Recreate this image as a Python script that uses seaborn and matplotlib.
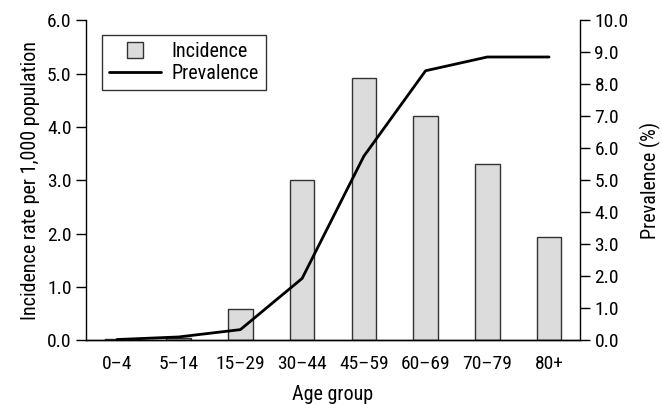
import numpy as np
import pandas as pd
import matplotlib
matplotlib.use("Agg")
from matplotlib import pyplot as plt
from matplotlib import font_manager
from matplotlib.lines import Line2D
import seaborn as sns

# data
age_groups = ["0–4", "5–14", "15–29", "30–44", "45–59", "60–69", "70–79", "80+"]
incidence = [0.03, 0.05, 0.58, 3.0, 4.91, 4.21, 3.31, 1.93]
prevalence = [0.02, 0.1, 0.33, 1.93, 5.75, 8.42, 8.85, 8.85]

sns.set_theme(style="white")

# pick a narrow font if one is installed
installed = {f.name for f in font_manager.fontManager.ttflist}
family = "DejaVu Sans"
for name in ["Liberation Sans Narrow", "Roboto Condensed", "Open Sans Condensed",
             "DejaVu Sans Condensed", "Arial Narrow", "Liberation Sans"]:
    if name in installed:
        family = name
        break
plt.rcParams["font.family"] = [family, "DejaVu Sans"]
plt.rcParams["text.color"] = "black"
plt.rcParams["axes.labelcolor"] = "black"

data = pd.DataFrame({"age": age_groups, "incidence": incidence,
                     "prevalence": prevalence, "pos": np.arange(len(age_groups))})

fig, ax = plt.subplots(figsize=(6.62, 4.04), dpi=100)
fig.subplots_adjust(left=0.130, right=0.876, top=0.950, bottom=0.158)

sns.barplot(data=data, x="age", y="incidence", color="#dcdcdc",
            edgecolor="#333333", linewidth=1.0, width=0.4, saturation=1, ax=ax)
ax.set_ylim(0, 6)
ax.set_xlim(-0.5, len(age_groups) - 0.5)
ax.set_yticks(np.arange(0, 6.1, 1.0))
ax.set_yticklabels([f"{v:.1f}" for v in np.arange(0, 6.1, 1.0)])
ax.set_xlabel("Age group", fontsize=14.5, labelpad=8)
ax.set_ylabel("Incidence rate per 1,000 population", fontsize=14.5, labelpad=5)

ax2 = ax.twinx()
sns.lineplot(data=data, x="pos", y="prevalence", color="black",
             linewidth=2.0, ax=ax2)
ax2.set_ylim(0, 10)
ax2.set_yticks(np.arange(0, 10.1, 1.0))
ax2.set_yticklabels([f"{v:.1f}" for v in np.arange(0, 10.1, 1.0)])
ax2.set_ylabel("Prevalence (%)", fontsize=14.5, labelpad=8)
ax2.set_xlim(-0.5, len(age_groups) - 0.5)

for a in (ax, ax2):
    a.spines["top"].set_visible(False)
    for s in a.spines.values():
        s.set_color("black")
        s.set_linewidth(1.0)
    a.tick_params(axis="y", direction="out", length=7, width=1.0,
                  color="black", labelsize=14, labelcolor="black",
                  left=(a is ax), right=(a is ax2))
ax.tick_params(axis="x", length=0, labelsize=14, labelcolor="black", pad=11)
ax2.spines["left"].set_visible(False)
ax.spines["right"].set_visible(False)

handles = [Line2D([0], [0], linestyle="none", marker="s", markersize=12,
                  markerfacecolor="#dcdcdc", markeredgecolor="#333333",
                  markeredgewidth=1.0),
           Line2D([0], [0], color="black", linewidth=2.0)]
leg = ax.legend(handles, ["Incidence", "Prevalence"], loc="upper left",
                bbox_to_anchor=(0.032, 0.953), borderaxespad=0, fontsize=14.5,
                frameon=True, fancybox=False, edgecolor="black", handlelength=2.6,
                borderpad=0.35, labelspacing=0.15, handletextpad=0.5)
leg.get_frame().set_linewidth(1.0)

fig.savefig("out.png", dpi=100)
plt.close()
